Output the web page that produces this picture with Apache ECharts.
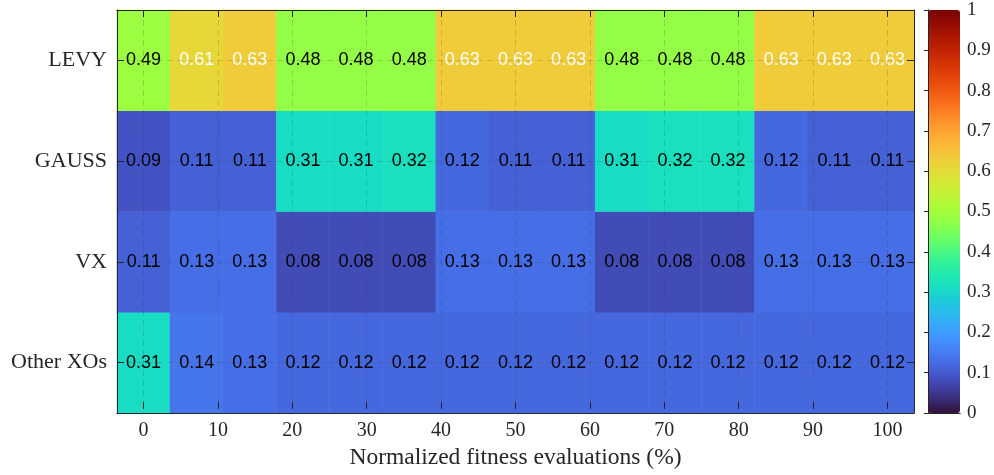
<!DOCTYPE html>
<html>
<head>
<meta charset="utf-8">
<script src="https://cdn.jsdelivr.net/npm/echarts@6/dist/echarts.min.js"></script>
<style>html,body{margin:0;padding:0;background:#fff}#c{width:994px;height:475px}</style>
</head>
<body>
<div id="c"></div>
<script>
// ---- data ----
const rowNames = ['LEVY', 'GAUSS', 'VX', 'Other XOs'];          // top to bottom
const colIndex = ['c0','c1','c2','c3','c4','c5','c6','c7','c8','c9','c10','c11','c12','c13','c14'];
const levy  = [0.49,0.61,0.63,0.48,0.48,0.48,0.63,0.63,0.63,0.48,0.48,0.48,0.63,0.63,0.63];
const gauss = [0.09,0.11,0.11,0.31,0.31,0.32,0.12,0.11,0.11,0.31,0.32,0.32,0.12,0.11,0.11];
const vx    = [0.11,0.13,0.13,0.08,0.08,0.08,0.13,0.13,0.13,0.08,0.08,0.08,0.13,0.13,0.13];
const other = [0.31,0.14,0.13,0.12,0.12,0.12,0.12,0.12,0.12,0.12,0.12,0.12,0.12,0.12,0.12];
const xTicks = [0,10,20,30,40,50,60,70,80,90,100];
const cbTicks = [0,0.1,0.2,0.3,0.4,0.5,0.6,0.7,0.8,0.9,1];
const xLabel = 'Normalized fitness evaluations (%)';

// turbo colormap stops (every 8th entry of the 256-entry table)
const turboStops = [
  'rgb(48,18,59)','rgb(57,42,115)','rgb(64,64,162)','rgb(68,86,199)','rgb(70,107,227)',
  'rgb(70,128,246)','rgb(66,148,255)','rgb(55,168,250)','rgb(40,188,235)','rgb(28,205,216)',
  'rgb(24,221,194)','rgb(31,233,175)','rgb(50,242,152)','rgb(78,249,125)','rgb(109,254,98)',
  'rgb(139,255,75)','rgb(164,252,60)','rgb(185,246,53)','rgb(205,236,52)','rgb(223,223,55)',
  'rgb(238,207,58)','rgb(248,190,57)','rgb(253,172,52)','rgb(254,150,43)','rgb(251,126,33)',
  'rgb(244,102,23)','rgb(235,80,14)','rgb(223,63,8)','rgb(208,47,5)','rgb(190,33,2)',
  'rgb(169,22,1)','rgb(146,11,1)','rgb(122,4,3)'
];

const rowsBottomUp = [other, vx, gauss, levy];
const heatData = [];
rowsBottomUp.forEach((arr, yi) => arr.forEach((v, xi) => {
  heatData.push({ value: [xi, yi, v], label: { color: v > 0.5 ? '#ffffff' : '#000000' } });
}));

const axisColor = '#262626';
const serif = 'Liberation Serif';
const gridDash = { show: true, lineStyle: { color: 'rgba(38,38,38,0.18)', type: [6, 4], width: 1 } };

const PL = 117, PT = 10, PW = 797, PH = 403;
const cellW = PW / colIndex.length, rowH = PH / rowNames.length;

function boxAxis(grid, pos, type, data) {
  const a = { gridIndex: grid, type: type, position: pos, z: 10,
    axisLine: { show: true, lineStyle: { color: axisColor } }, axisTick: { show: false },
    axisLabel: { show: false }, splitLine: { show: false } };
  if (type === 'category') a.data = data; else { a.min = 0; a.max = 1; }
  return a;
}

const chart = echarts.init(document.getElementById('c'), null, { renderer: 'canvas' });
chart.setOption({
  animation: false,
  backgroundColor: '#fff',
  grid: [
    { left: PL, top: PT, width: PW, height: PH },                                   // heatmap
    { left: PL + cellW/2, top: PT, width: PW - cellW, height: PH },                   // x ticks
    { left: PL, top: PT + rowH/2, width: PW, height: PH - rowH },                    // y ticks
    { left: 928, top: PT, width: 32, height: PH }                                    // colorbar
  ],
  xAxis: [
    boxAxis(0, 'bottom', 'category', colIndex),
    boxAxis(0, 'top', 'category', colIndex),
    { gridIndex: 1, type: 'value', min: 0, max: 100, interval: 10, position: 'bottom', z: 5,
      axisLine: { show: false }, axisTick: { show: true, inside: true, length: 7, lineStyle: { color: axisColor } },
      axisLabel: { show: true, margin: 12, color: axisColor, fontFamily: serif, fontSize: 20,
        formatter: v => xTicks.indexOf(v) >= 0 ? String(v) : '' },
      splitLine: gridDash,
      name: xLabel, nameLocation: 'middle', nameGap: 37,
      nameTextStyle: { color: axisColor, fontFamily: serif, fontSize: 23.5 } },
    { gridIndex: 1, type: 'value', min: 0, max: 100, interval: 10, position: 'top', z: 5,
      axisLine: { show: false }, axisTick: { show: true, inside: true, length: 7, lineStyle: { color: axisColor } },
      axisLabel: { show: false }, splitLine: { show: false } },
    { gridIndex: 2, type: 'value', min: 0, max: 1, show: false },
    boxAxis(3, 'bottom', 'value'),
    boxAxis(3, 'top', 'value')
  ],
  yAxis: [
    boxAxis(0, 'left', 'category', rowNames.slice().reverse()),
    boxAxis(0, 'right', 'category', rowNames.slice().reverse()),
    { gridIndex: 1, type: 'value', min: 0, max: 1, show: false },
    { gridIndex: 2, type: 'value', min: 0, max: 3, interval: 1, position: 'left', z: 5,
      axisLine: { show: false }, axisTick: { show: true, inside: true, length: 7, lineStyle: { color: axisColor } },
      axisLabel: { show: true, margin: 10, color: axisColor, fontFamily: serif, fontSize: 22,
        formatter: v => rowNames[3 - v] },
      splitLine: gridDash },
    { gridIndex: 2, type: 'value', min: 0, max: 3, interval: 1, position: 'right', z: 5,
      axisLine: { show: false }, axisTick: { show: true, inside: true, length: 7, lineStyle: { color: axisColor } },
      axisLabel: { show: false }, splitLine: { show: false } },
    boxAxis(3, 'left', 'value'),
    { gridIndex: 3, type: 'value', min: 0, max: 1, interval: 0.1, position: 'right', z: 10,
      axisLine: { show: true, lineStyle: { color: axisColor } },
      axisTick: { show: true, inside: true, length: 4, lineStyle: { color: axisColor } },
      axisLabel: { show: true, margin: 7, color: axisColor, fontFamily: serif, fontSize: 19,
        formatter: v => { const t = cbTicks.find(c => Math.abs(c - v) < 1e-6); return t === undefined ? '' : String(t); } },
      splitLine: { show: false } }
  ],
  visualMap: {
    type: 'continuous', min: 0, max: 1, seriesIndex: 0, calculable: false, hoverLink: false,
    orient: 'vertical', left: 928, top: PT, itemWidth: 32, itemHeight: PH, padding: 0,
    inRange: { color: turboStops }
  },
  series: [
    { type: 'heatmap', xAxisIndex: 0, yAxisIndex: 0, data: heatData,
      label: { show: true, fontFamily: 'Liberation Sans', fontSize: 18, formatter: p => p.value[2].toFixed(2) },
      emphasis: { disabled: true }, itemStyle: { borderWidth: 0 } }
  ]
});
</script>
</body>
</html>
